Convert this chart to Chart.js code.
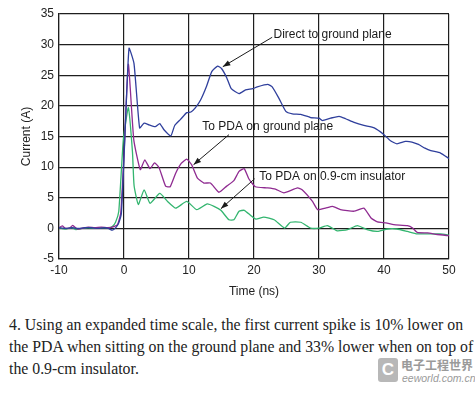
<!DOCTYPE html>
<html>
<head>
<meta charset="utf-8">
<script src="https://cdn.jsdelivr.net/npm/chart.js@4.4.0/dist/chart.umd.min.js"></script>
<style>
  body { margin: 0; background: #fff; }
  #wrap { position: relative; width: 475px; height: 394px; overflow: hidden; }
  #box { position: absolute; left: 0; top: 0; width: 475px; height: 300px; }
  #caption {
    position: absolute; left: 9px; top: 314px; width: 460px;
    font: 15.8px "Liberation Serif", "DejaVu Serif", serif;
    line-height: 22px; color: #222; white-space: nowrap;
  }
  #mark { position: absolute; left: 378px; top: 357px; width: 97px; height: 34px; color: #9a9a9a; white-space: nowrap; }
  #mark .logo { position: absolute; left: 0; top: 1px; width: 20px; height: 24px; background: #b8b8b8; border-radius: 3px;
    color: #fff; font: bold 17px "Liberation Sans", sans-serif; text-align: center; line-height: 24px; }
  #mark .cn { position: absolute; left: 23px; top: 0; font: bold 12px "Noto Sans CJK SC", sans-serif; line-height: 16px; }
  #mark .en { position: absolute; left: 24px; top: 15px; font: italic 10.5px "Liberation Sans", sans-serif; line-height: 12px; }
</style>
</head>
<body>
<div id="wrap">
  <div id="box"><canvas id="myChart"></canvas></div>
  <div id="caption">4. Using an expanded time scale, the first current spike is 10% lower on<br>the PDA when sitting on the ground plane and 33% lower when on top of<br>the 0.9-cm insulator.</div>
  <div id="mark"><div class="logo">C</div><div class="cn">电子工程世界</div><div class="en">eeworld.com.cn</div></div>
</div>
<script>
const ctx = document.querySelector("#myChart");

// Direct to ground plane
const timeDirect = [-10, -9, -8, -7, -6, -5, -4, -3, -2.4, -1.8, -1.2, -0.8, -0.4, 0.1, 0.77, 1.54, 2.4, 3.1, 3.85, 4.8, 5.5, 6.15, 7.2, 7.8, 8.7, 9.65, 10.3, 11.0, 11.8, 12.7, 13.5, 14.4, 15.0, 15.8, 16.5, 17.7, 18.7, 19.8, 20.5, 22.1, 22.8, 23.8, 24.9, 25.9, 27.2, 28.7, 30, 30.5, 31.8, 33.1, 34.1, 35.4, 36.9, 38.5, 40, 41, 42, 43.3, 44.3, 45.3, 46.3, 47.2, 48.7, 50];
const currentDirect = [0.1, 0.0, 0.1, 0.0, 0.1, 0.1, 0.0, 0.1, 0.0, -0.3, 0.2, 0.9, 2.5, 14, 29.4, 26.9, 16.4, 17.2, 16.9, 16.6, 17.1, 16.1, 15.1, 16.8, 17.8, 18.9, 19.0, 19.7, 21.0, 23.2, 25.6, 26.5, 26.1, 24.6, 22.8, 22.0, 22.6, 22.8, 23.1, 23.5, 23.1, 21.3, 19.1, 18.7, 18.6, 18.1, 18.0, 17.6, 18.0, 18.3, 17.9, 17.3, 16.8, 16.4, 15.3, 14.3, 13.8, 14.2, 14.1, 13.7, 13.1, 12.7, 12.3, 11.4];

// To PDA on ground plane
const timeGround = [-10, -9.5, -9, -8.3, -7.9, -7.2, -6.5, -5.5, -4.5, -3.5, -2.5, -1.8, -1, -0.5, 0, 0.67, 1.5, 2.5, 3.2, 4.0, 4.7, 5.4, 6.4, 7.1, 7.95, 8.8, 9.65, 10.4, 11.3, 12.3, 13.3, 14.6, 15.8, 16.9, 17.7, 18.5, 19.2, 20.2, 22.1, 23.3, 24.6, 26.7, 27.4, 29.0, 29.8, 31.0, 32.1, 33.3, 35.4, 36.9, 38.0, 39.0, 40.3, 41.5, 43.6, 44.4, 45.1, 46.7, 48.2, 50];
const currentGround = [0.1, 0.4, 0.0, 0.1, 0.5, -0.1, 0.0, 0.2, 0.1, 0.2, 0.1, 0.2, 0.6, 2.5, 12, 26.8, 14.5, 9.6, 11.2, 9.75, 10.7, 9.9, 6.9, 6.8, 9.0, 10.6, 11.3, 10.4, 8.2, 7.4, 7.4, 5.9, 6.9, 7.8, 9.3, 9.75, 8.1, 6.8, 6.6, 6.4, 5.8, 6.6, 6.3, 4.4, 3.05, 3.3, 3.6, 3.05, 2.8, 3.3, 1.7, 1.05, 0.9, 0.6, 0.45, 0.07, -0.65, -0.75, -1.0, -1.2];

// To PDA on 0.9-cm insulator
const timeInsul = [-10, -9, -8, -7.4, -6.5, -5.5, -4.5, -3.5, -2.5, -1.8, -1.3, -0.8, -0.1, 0.67, 1.3, 1.55, 2.2, 3.1, 4.0, 5.5, 6.7, 7.95, 9.65, 11.2, 12.8, 13.85, 14.9, 16.15, 16.9, 17.7, 18.5, 19.5, 20.3, 21.5, 23.1, 24.7, 25.6, 27.2, 28.7, 30, 31.3, 32.8, 34.4, 35.9, 37.4, 39, 40.5, 42, 43.6, 45.1, 47.2, 48.7, 50];
const currentInsul = [0.1, -0.1, 0.1, -0.2, 0.0, 0.1, 0.0, 0.1, 0.1, 0.3, 1.0, 2.8, 14.5, 19.7, 12.5, 7.0, 3.9, 6.3, 4.1, 5.7, 4.4, 3.3, 4.4, 3.05, 4.0, 3.6, 2.95, 1.4, 1.4, 2.8, 2.95, 2.1, 1.5, 1.85, 1.4, 0.05, 1.0, 1.0, 0.05, 0.05, 0.45, -0.4, -0.2, 0.45, -0.2, -0.5, -0.1, -0.1, -0.5, -0.9, -0.9, -0.9, -1.1];

// callouts: label text, label start [t, A], arrow from [t, A], arrow tip [t, A]
const calloutText = ["Direct to ground plane", "To PDA on ground plane", "To PDA on 0.9-cm insulator"];
const calloutLabelAt = [[23.0, 31.65], [12.05, 16.6], [20.8, 8.45]];
const calloutFrom = [[22.8, 31.2], [16.15, 15.3], [20.1, 8.1]];
const calloutTip = [[15.2, 26.4], [10.7, 10.4], [14.9, 3.2]];

const pts = (xs, ys) => xs.map((x, i) => ({ x: x, y: ys[i] }));

const callouts = {
  id: "callouts",
  afterDatasetsDraw(chart) {
    const c = chart.ctx;
    const sx = chart.scales.x, sy = chart.scales.y;
    c.save();
    c.fillStyle = "#1a1a1a";
    c.strokeStyle = "#1a1a1a";
    c.lineWidth = 1;
    c.font = "12px 'Liberation Sans', Arial, sans-serif";
    c.textBaseline = "middle";
    calloutText.forEach((t, i) => {
      const lx = sx.getPixelForValue(calloutLabelAt[i][0]);
      const ly = sy.getPixelForValue(calloutLabelAt[i][1]);
      c.fillText(t, lx, ly);
      const x1 = sx.getPixelForValue(calloutFrom[i][0]), y1 = sy.getPixelForValue(calloutFrom[i][1]);
      const x2 = sx.getPixelForValue(calloutTip[i][0]), y2 = sy.getPixelForValue(calloutTip[i][1]);
      c.beginPath();
      c.moveTo(x1, y1);
      c.lineTo(x2, y2);
      c.stroke();
      const a = Math.atan2(y2 - y1, x2 - x1);
      c.beginPath();
      c.moveTo(x2, y2);
      c.lineTo(x2 - 8 * Math.cos(a - 0.35), y2 - 8 * Math.sin(a - 0.35));
      c.lineTo(x2 - 8 * Math.cos(a + 0.35), y2 - 8 * Math.sin(a + 0.35));
      c.closePath();
      c.fill();
    });
    c.restore();
  }
};

const tickFont = { family: "'Liberation Sans', Arial, sans-serif", size: 12 };

const config = {
  type: "line",
  data: {
    datasets: [
      { label: "Direct to ground plane", data: pts(timeDirect, currentDirect), borderColor: "#2f3f9c" },
      { label: "To PDA on ground plane", data: pts(timeGround, currentGround), borderColor: "#8f2b91" },
      { label: "To PDA on 0.9-cm insulator", data: pts(timeInsul, currentInsul), borderColor: "#33b56f" }
    ]
  },
  options: {
    responsive: true,
    maintainAspectRatio: false,
    animation: false,
    elements: {
      point: { radius: 0 },
      line: { borderWidth: 1.3, tension: 0.15, fill: false }
    },
    layout: { padding: { top: 14, right: 26, left: 0, bottom: 0 } },
    plugins: { legend: { display: false }, tooltip: { enabled: false } },
    scales: {
      x: {
        type: "linear", min: -10, max: 50,
        ticks: { stepSize: 10, color: "#222", font: tickFont, padding: 4 },
        grid: { color: "#1e1e1e", drawTicks: false, lineWidth: 1.2 },
        border: { color: "#1e1e1e", width: 1.2 },
        title: { display: true, text: "Time (ns)", color: "#222", font: tickFont, padding: { top: 0, bottom: 1 } },
        afterFit(scale) { scale.height = 41; }
      },
      y: {
        min: -5, max: 35,
        ticks: { stepSize: 5, color: "#222", font: tickFont, padding: 5 },
        grid: { color: "#1e1e1e", drawTicks: false, lineWidth: 1.2 },
        border: { color: "#1e1e1e", width: 1.2 },
        title: { display: true, text: "Current (A)", color: "#222", font: tickFont, padding: { top: 19, bottom: 0 } },
        afterFit(scale) { scale.width = 59; }
      }
    }
  },
  plugins: [callouts]
};

new Chart(ctx, config);
</script>
</body>
</html>
